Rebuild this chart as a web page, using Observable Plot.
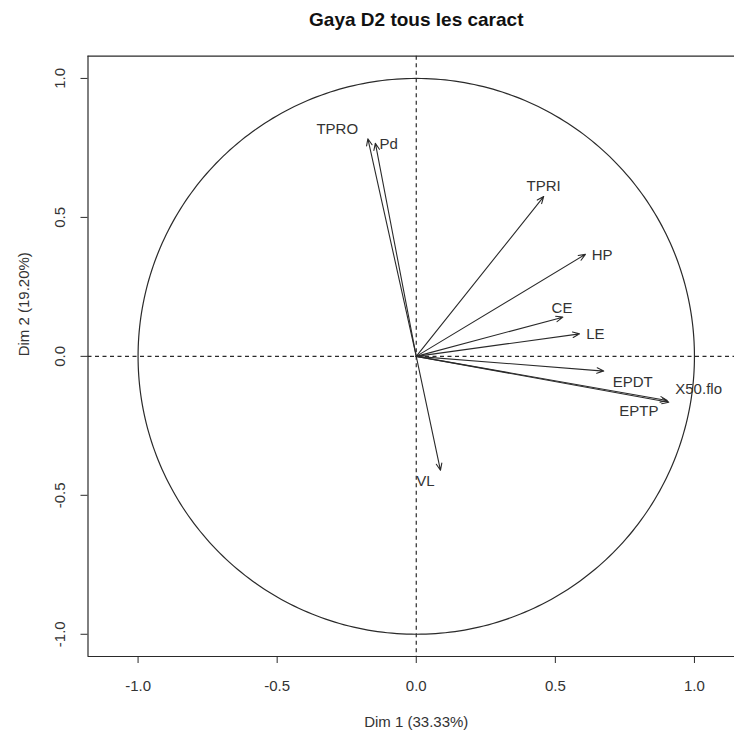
<!DOCTYPE html>
<html>
<head>
<meta charset="utf-8">
<script src="https://cdn.jsdelivr.net/npm/d3@7"></script>
<script src="https://cdn.jsdelivr.net/npm/@observablehq/plot@0.6"></script>
<style>
  html, body { margin: 0; padding: 0; background: #fff; overflow: hidden; }
</style>
</head>
<body>
<div id="chart"></div>
<script>
const title = "Gaya D2 tous les caract";
const xLabel = "Dim 1 (33.33%)";
const yLabel = "Dim 2 (19.20%)";

const variables = ["TPRO", "Pd", "TPRI", "HP", "CE", "LE", "EPDT", "X50.flo", "EPTP", "VL"];
const dim1 = [-0.174, -0.147, 0.458, 0.608, 0.527, 0.587, 0.674, 0.902, 0.908, 0.087];
const dim2 = [0.783, 0.767, 0.575, 0.367, 0.141, 0.081, -0.053, -0.159, -0.165, -0.410];
// label anchor points (data units, as placed by the original plot)
const labelDim1 = [-0.284, -0.099, 0.458, 0.668, 0.524, 0.644, 0.778, 1.015, 0.800, 0.033];
const labelDim2 = [0.819, 0.762, 0.611, 0.363, 0.175, 0.079, -0.093, -0.117, -0.197, -0.449];

const xTicks = [-1.0, -0.5, 0.0, 0.5, 1.0];
const yTicks = [-1.0, -0.5, 0.0, 0.5, 1.0];
const xDomain = [-1.18, 1.144];
const yDomain = [-1.08, 1.08];

const vars = variables.map((name, i) => ({
  name, x: dim1[i], y: dim2[i], lx: labelDim1[i], ly: labelDim2[i]
}));

// unit correlation circle (reference geometry, radius 1)
const circle = d3.range(0, 361).map(a => ({
  x: Math.cos(a * Math.PI / 180), y: Math.sin(a * Math.PI / 180)
}));

const ink = "#2a2a2a";
const font = "'Liberation Sans', Arial, Helvetica, sans-serif";

const chart = Plot.plot({
  width: 734,
  height: 736,
  marginLeft: 87.5,
  marginRight: 0,
  marginTop: 55.7,
  marginBottom: 80,
  style: { fontFamily: font, background: "#fff" },
  x: { domain: xDomain, axis: null },
  y: { domain: yDomain, axis: null },
  marks: [
    // frame: top, left, bottom
    Plot.ruleY([yDomain[1]], { stroke: ink, strokeWidth: 1.2 }),
    Plot.ruleY([yDomain[0]], { stroke: ink, strokeWidth: 1.2 }),
    Plot.ruleX([xDomain[0]], { stroke: ink, strokeWidth: 1.2 }),
    // ticks
    Plot.axisX({ ticks: xTicks, tickSize: 7, tickFormat: () => "", stroke: ink, anchor: "bottom" }),
    Plot.axisY({ ticks: yTicks, tickSize: 7, tickFormat: () => "", stroke: ink, anchor: "left" }),
    // tick labels
    Plot.text(xTicks, { x: d => d, frameAnchor: "bottom", dy: 29.5, text: d => d.toFixed(1), fontSize: 15, fill: "#333", lineAnchor: "middle", textAnchor: "middle" }),
    Plot.text(yTicks, { y: d => d, frameAnchor: "left", dx: -27.5, text: d => d.toFixed(1), fontSize: 15, fill: "#333", rotate: -90, lineAnchor: "middle", textAnchor: "middle" }),
    // dashed axes through origin
    Plot.ruleX([0], { stroke: ink, strokeDasharray: "4,3.5", strokeWidth: 1.2 }),
    Plot.ruleY([0], { stroke: ink, strokeDasharray: "4,3.5", strokeWidth: 1.2 }),
    // correlation circle
    Plot.line(circle, { x: "x", y: "y", stroke: ink, strokeWidth: 1.2 }),
    // variable arrows
    Plot.arrow(vars, { x1: 0, y1: 0, x2: "x", y2: "y", stroke: ink, strokeWidth: 1.1, headLength: 10, headAngle: 45 }),
    // variable labels
    Plot.text(vars, { x: "lx", y: "ly", text: "name", fontSize: 15, fill: "#333", lineAnchor: "middle", textAnchor: "middle" }),
    // titles
    Plot.text([title], { x: 0, frameAnchor: "top", dy: -36, text: d => d, fontSize: 19, fontWeight: "bold", fill: "#111", lineAnchor: "middle" }),
    Plot.text([xLabel], { x: 0, frameAnchor: "bottom", dy: 65.7, text: d => d, fontSize: 15, fill: "#333", lineAnchor: "middle" }),
    Plot.text([yLabel], { y: 0, frameAnchor: "left", dx: -63.5, text: d => d, fontSize: 15, fill: "#333", rotate: -90, lineAnchor: "middle" })
  ]
});

document.getElementById("chart").appendChild(chart);
</script>
</body>
</html>
